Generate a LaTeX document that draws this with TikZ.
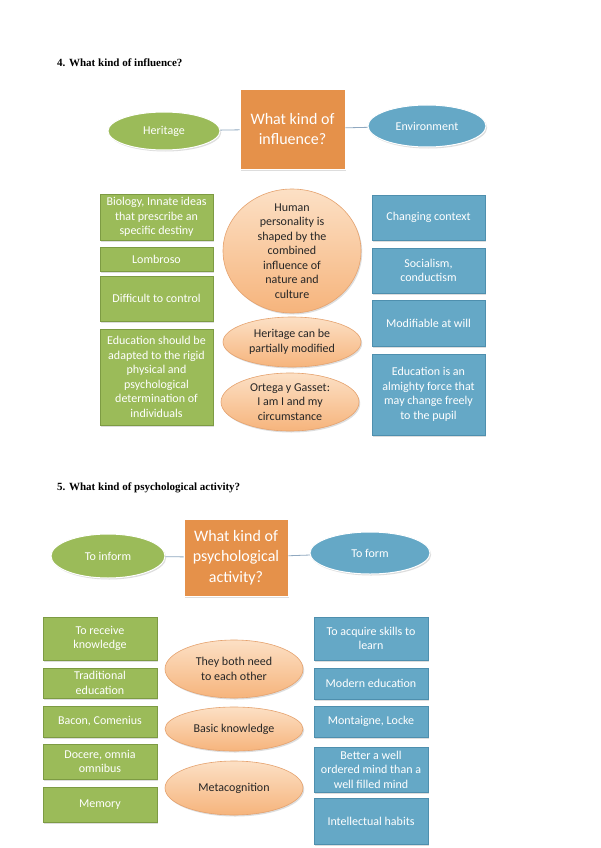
\documentclass[tikz,border=0pt]{standalone}
\usepackage{fontspec}
\setmainfont{Carlito}
\newfontfamily\headfont{Liberation Serif}
\usetikzlibrary{shapes.geometric,shadows}
\definecolor{grn}{HTML}{9BBB59}
\definecolor{grnd}{HTML}{7D9B43}
\definecolor{blu}{HTML}{65A8C6}
\definecolor{blud}{HTML}{4E8FAE}
\definecolor{org}{HTML}{E5914A}
\definecolor{peachT}{HTML}{FCE0C5}
\definecolor{peachB}{HTML}{F6B47C}
\definecolor{peachD}{HTML}{E5A26E}
\definecolor{lnk}{HTML}{8FA8C0}
\tikzset{
  shd/.style={drop shadow={opacity=0.22,shadow xshift=1.2pt,shadow yshift=-1.5pt,fill=black!60}},
  txt/.style={font=\fontsize{12}{14.5}\selectfont,align=center},
  gbox/.style={shd,rectangle,fill=grn,draw=grnd,line width=0.6pt,text=white,txt,inner sep=0pt},
  bbox/.style={shd,rectangle,fill=blu,draw=blud,line width=0.6pt,text=white,txt,inner sep=0pt},
  qbox/.style={shd,rectangle,fill=org,draw=white,line width=0.8pt,text=white,font=\fontsize{16}{20.5}\selectfont,align=center,inner sep=0pt},
  gell/.style={shd,ellipse,fill=grn,draw=white,line width=1pt,text=white,txt,inner sep=0pt},
  bell/.style={shd,ellipse,fill=blu,draw=white,line width=1pt,text=white,txt,inner sep=0pt},
  pell/.style={shd,ellipse,top color=peachT,bottom color=peachB,draw=peachD,line width=0.6pt,inner sep=0pt},
  ptxt/.style={txt,text=black!85,inner sep=0pt},
  head/.style={font=\headfont\bfseries\fontsize{11}{13}\selectfont,anchor=base west,inner sep=0pt},
  link/.style={draw=lnk,line width=0.8pt}
}
\begin{document}
\begin{tikzpicture}[x=1pt,y=-1pt]
\fill[white] (0,0) rectangle (600,848);
\useasboundingbox (0,0) rectangle (600,848);

% ---------- Section 4 ----------
\node[head] (h4) at (57,67) {4. What kind of influence?};

\node[qbox,minimum width=105,minimum height=80] (q1) at (292.5,129) {What kind of\\influence?};
\node[gell,minimum width=112,minimum height=38] (her) at (164,131) {Heritage};
\node[bell,minimum width=118,minimum height=42] (env) at (427,126) {Environment};
\draw[link] (her) -- (q1);
\draw[link] (q1) -- (env);

\node[gbox,minimum width=113,minimum height=46] (g1) at (156.5,217) {Biology, Innate ideas\\that prescribe an\\specific destiny};
\node[gbox,minimum width=113,minimum height=24] (g2) at (156.5,259) {Lombroso};
\node[gbox,minimum width=113,minimum height=45] (g3) at (156.5,298.5) {Difficult to control};
\node[gbox,minimum width=113,minimum height=96] (g4) at (156.5,377) {Education should be\\adapted to the rigid\\physical and\\psychological\\determination of\\individuals};

\node[bbox,minimum width=113,minimum height=45] (b1) at (428.5,217.5) {Changing context};
\node[bbox,minimum width=113,minimum height=45] (b2) at (428.5,270.5) {Socialism,\\conductism};
\node[bbox,minimum width=113,minimum height=46] (b3) at (428.5,323) {Modifiable at will};
\node[bbox,minimum width=113,minimum height=81] (b4) at (428.5,394.5) {Education is an\\almighty force that\\may change freely\\to the pupil};

\node[pell,minimum width=138,minimum height=124] (e1) at (292,251) {};
\node[ptxt] (e1t) at (e1) {Human\\personality is\\shaped by the\\combined\\influence of\\nature and\\culture};
\node[pell,minimum width=138,minimum height=50] (e2) at (292,342) {};
\node[ptxt] (e2t) at (e2) {Heritage can be\\partially modified};
\node[pell,minimum width=138,minimum height=58] (e3) at (290,402) {};
\node[ptxt] (e3t) at (e3) {Ortega y Gasset:\\I am I and my\\circumstance};

% ---------- Section 5 ----------
\node[head] (h5) at (57,490) {5. What kind of psychological activity?};

\node[qbox,minimum width=104,minimum height=77] (q2) at (236,557.5) {What kind of\\psychological\\activity?};
\node[gell,minimum width=114,minimum height=44] (inf) at (108,556) {To inform};
\node[bell,minimum width=120,minimum height=42] (frm) at (370,553) {To form};
\draw[link] (inf) -- (q2);
\draw[link] (q2) -- (frm);

\node[gbox,minimum width=114,minimum height=43] (k1) at (100,638.5) {To receive\\knowledge};
\node[gbox,minimum width=114,minimum height=30] (k2) at (100,683) {Traditional\\education};
\node[gbox,minimum width=114,minimum height=31] (k3) at (100,721.5) {Bacon, Comenius};
\node[gbox,minimum width=114,minimum height=35] (k4) at (100,761.5) {Docere, omnia\\omnibus};
\node[gbox,minimum width=114,minimum height=35] (k5) at (100,804.5) {Memory};

\node[bbox,minimum width=114,minimum height=43] (m1) at (371,638.5) {To acquire skills to\\learn};
\node[bbox,minimum width=114,minimum height=31] (m2) at (371,683.5) {Modern education};
\node[bbox,minimum width=114,minimum height=31] (m3) at (371,721.5) {Montaigne, Locke};
\node[bbox,minimum width=114,minimum height=45] (m4) at (371,769.5) {Better a well\\ordered mind than a\\well filled mind};
\node[bbox,minimum width=114,minimum height=46] (m5) at (371,821) {Intellectual habits};

\node[pell,minimum width=138,minimum height=58] (f1) at (234,669) {};
\node[ptxt] (f1t) at (f1) {They both need\\to each other};
\node[pell,minimum width=138,minimum height=44] (f2) at (234,729) {};
\node[ptxt] (f2t) at (f2) {Basic knowledge};
\node[pell,minimum width=138,minimum height=54] (f3) at (234,788) {};
\node[ptxt] (f3t) at (f3) {Metacognition};
\end{tikzpicture}
\end{document}
